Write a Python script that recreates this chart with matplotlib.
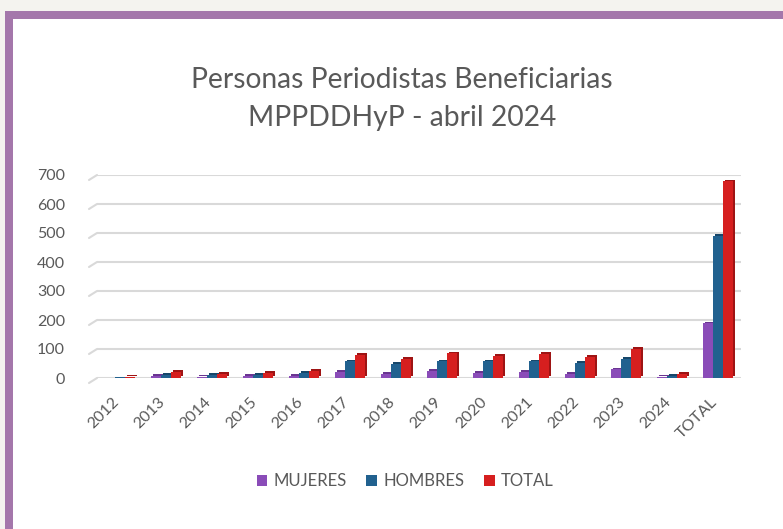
import numpy as np
import matplotlib.pyplot as plt
import matplotlib.transforms as mtransforms
from matplotlib.patches import Rectangle

# Data
categories = ["2012", "2013", "2014", "2015", "2016", "2017", "2018",
              "2019", "2020", "2021", "2022", "2023", "2024", "TOTAL"]
mujeres = [1, 8, 4, 7, 8, 20, 15, 25, 17, 22, 15, 30, 5, 188]
hombres = [2, 12, 12, 10, 17, 57, 50, 57, 57, 57, 52, 67, 7, 490]
total = [3, 20, 15, 18, 25, 80, 67, 85, 77, 82, 72, 100, 13, 678]
yticks = [0, 100, 200, 300, 400, 500, 600, 700]

series = [("MUJERES", mujeres, "#8a4cb8", "#6a3591"),
          ("HOMBRES", hombres, "#21618f", "#17476a"),
          ("TOTAL", total, "#d61f1f", "#9e1414")]

W, H = 783, 529
fig = plt.figure(figsize=(W / 100, H / 100), dpi=100)
fig.patch.set_facecolor("#f4f3ef")

# purple frame and white panel (drawn below the axes)
fig.patches.append(Rectangle((5 / W, 0), 1, 1 - 11 / H, transform=fig.transFigure,
                             facecolor="#a477ab", edgecolor="none", zorder=-2))
fig.patches.append(Rectangle((13 / W, 0), 1, 1 - 19 / H, transform=fig.transFigure,
                             facecolor="white", edgecolor="none", zorder=-1))

left, right, bottom, top = 97, 741, 378, 175
ax = fig.add_axes([left / W, 1 - bottom / H, (right - left) / W, (bottom - top) / H])
ax.set_facecolor("none")

x = np.arange(len(categories))
width = 0.22
offsets = [-width, 0, width]
dx, dy = 0.05, 6  # pseudo 3D depth

for (name, vals, col, dark), off in zip(series, offsets):
    # darker side face behind, then the front face
    ax.bar(x + off + dx, vals, width, bottom=dy, color=dark, zorder=3)
    ax.bar(x + off, vals, width, color=col, zorder=4, label=name)

ax.set_xlim(-0.5, len(categories) - 0.5)
ax.set_ylim(0, 700)
ax.set_yticks(yticks)
ax.set_xticks(x)
ax.set_xticklabels(categories, rotation=45, ha="right", rotation_mode="anchor")
ax.tick_params(axis="both", length=0, colors="#595959", labelsize=11.5)
ax.tick_params(axis="y", pad=23)
ax.tick_params(axis="x", pad=12)
shift = mtransforms.ScaledTranslation(-8 / 100, 0, fig.dpi_scale_trans)
for lab in ax.get_xticklabels():
    lab.set_transform(lab.get_transform() + shift)
for lab in ax.get_xticklabels() + ax.get_yticklabels():
    lab.set_fontfamily("Lato")
ax.grid(axis="y", color="#d9d9d9", linewidth=1.5, zorder=0)
ax.set_axisbelow(True)
for s in ax.spines.values():
    s.set_visible(False)

# slanted floor edge of the 3D gridlines
slant = mtransforms.ScaledTranslation(-8 / 100, -5 / 100, fig.dpi_scale_trans)
ytrans = ax.get_yaxis_transform()
for yv in yticks:
    ax.annotate("", xy=(0, yv), xycoords=ytrans,
                xytext=(0, yv), textcoords=ytrans + slant,
                arrowprops=dict(arrowstyle="-", color="#d9d9d9", lw=1.5,
                                shrinkA=0, shrinkB=0))

fig.text(402 / W, 1 - 80 / H, "Personas Periodistas Beneficiarias", ha="center",
         va="center", fontsize=20.3, color="#595959", fontfamily="Lato")
fig.text(402 / W, 1 - 118 / H, "MPPDDHyP - abril 2024", ha="center",
         va="center", fontsize=20.3, color="#595959", fontfamily="Lato")

handles, labels = ax.get_legend_handles_labels()
leg = fig.legend(handles, labels, loc="center", bbox_to_anchor=(405 / W, 1 - 481 / H),
                 ncol=3, frameon=False, handlelength=0.65, handleheight=0.65,
                 handletextpad=0.35, columnspacing=1.2,
                 prop={"family": "Lato", "size": 12})
for t in leg.get_texts():
    t.set_color("#595959")

fig.savefig("out.png", dpi=100, facecolor=fig.get_facecolor())
